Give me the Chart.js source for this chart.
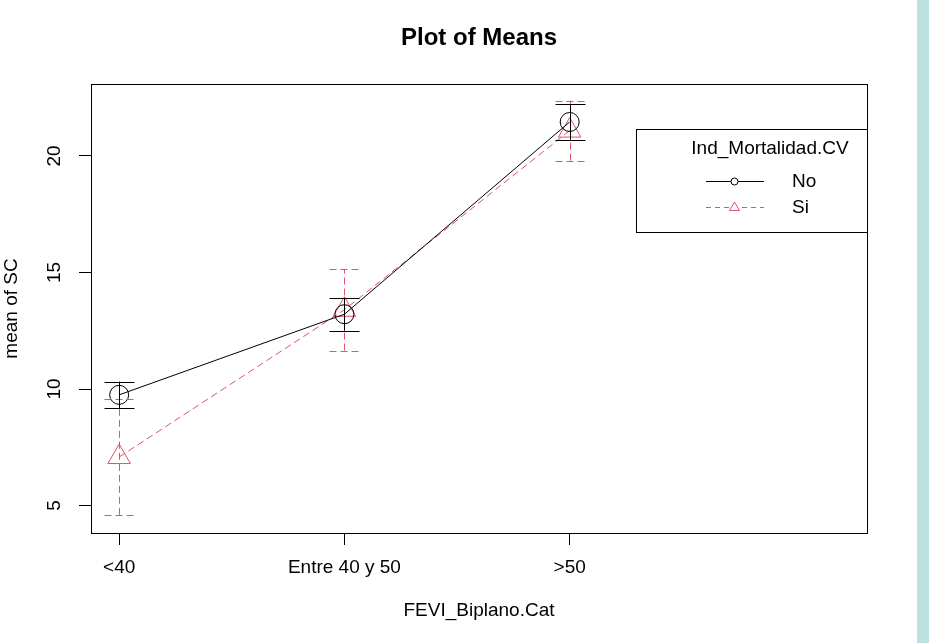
<!DOCTYPE html>
<html>
<head>
<meta charset="utf-8">
<script src="https://cdn.jsdelivr.net/npm/chart.js@4"></script>
<style>
html,body{margin:0;padding:0;background:#fff;}
#wrap{position:relative;width:929px;height:643px;}
</style>
</head>
<body>
<div id="wrap"><canvas id="c" width="929" height="643"></canvas></div>
<script>
// ---- data ----
const categories = ['<40', 'Entre 40 y 50', '>50'];
const seriesNames = ['No', 'Si'];
const noMeans = [9.75, 13.21, 21.46];
const noSE = [0.57, 0.71, 0.77];
const siMeans = [7.08, 13.40, 21.09];
const siSE = [2.48, 1.75, 1.29];
const yTicks = [5, 10, 15, 20];
const legendTitle = 'Ind_Mortalidad.CV';
const chartTitle = 'Plot of Means';
const xTitle = 'FEVI_Biplano.Cat';
const yTitle = 'mean of SC';

const BLACK = '#000000';
const PINK = '#DF536B';
const FONT = "'Liberation Sans', Arial, sans-serif";
const DASH = [7, 4];

const toPts = arr => arr.map((v, i) => ({x: i, y: v}));

const centerTitle = {
  id: 'centerTitle',
  afterLayout(chart) {
    const tb = chart.titleBlock;
    if (tb) {
      tb.left = chart.chartArea.left;
      tb.right = chart.chartArea.right;
      tb.width = tb.right - tb.left;
    }
  }
};

const errorBars = {
  id: 'errorBars',
  afterDatasetsDraw(chart) {
    const ctx = chart.ctx, xs = chart.scales.x, ys = chart.scales.y;
    const sets = [
      {m: siMeans, se: siSE, color: PINK, dash: DASH},
      {m: noMeans, se: noSE, color: BLACK, dash: []}
    ];
    ctx.save();
    ctx.lineWidth = 1;
    sets.forEach(s => {
      ctx.strokeStyle = s.color;
      ctx.setLineDash(s.dash);
      s.m.forEach((v, i) => {
        const px = Math.round(xs.getPixelForValue(i)) + 0.5;
        const top = ys.getPixelForValue(v + s.se[i]);
        const bot = ys.getPixelForValue(v - s.se[i]);
        ctx.beginPath();
        ctx.moveTo(px, bot); ctx.lineTo(px, top);
        ctx.moveTo(px - 15, Math.round(top) + 0.5); ctx.lineTo(px + 15, Math.round(top) + 0.5);
        ctx.moveTo(px - 15, Math.round(bot) + 0.5); ctx.lineTo(px + 15, Math.round(bot) + 0.5);
        ctx.stroke();
      });
    });
    ctx.restore();
  }
};

const frame = {
  id: 'frame',
  beforeDraw(chart) {
    const ctx = chart.ctx;
    ctx.save();
    ctx.fillStyle = '#ffffff';
    ctx.fillRect(0, 0, chart.width, chart.height);
    ctx.fillStyle = '#BDE0E2';
    ctx.fillRect(917, 0, chart.width - 917, chart.height);
    ctx.restore();
  },
  afterDraw(chart) {
    const ctx = chart.ctx, a = chart.chartArea;
    ctx.save();
    ctx.strokeStyle = BLACK;
    ctx.lineWidth = 1;
    ctx.setLineDash([]);
    ctx.strokeRect(Math.round(a.left) + 0.5, Math.round(a.top) + 0.5,
                   Math.round(a.right - a.left), Math.round(a.bottom - a.top));
    // legend box
    const lx = 636.5, ly = 129.5, lw = Math.round(a.right) - 636, lh = 103;
    ctx.fillStyle = '#fff';
    ctx.fillRect(lx, ly, lw, lh);
    ctx.strokeRect(lx, ly, lw, lh);
    ctx.fillStyle = '#000';
    ctx.font = '19px ' + FONT;
    ctx.textBaseline = 'middle';
    ctx.textAlign = 'center';
    ctx.fillText(legendTitle, 770, 149);
    ctx.textAlign = 'left';
    const rows = [
      {name: seriesNames[0], y: 181, color: BLACK, dash: [], shape: 'circle'},
      {name: seriesNames[1], y: 207, color: PINK, dash: [5, 4], shape: 'triangle'}
    ];
    rows.forEach(r => {
      ctx.strokeStyle = r.color;
      ctx.setLineDash(r.dash);
      ctx.beginPath();
      ctx.moveTo(706, r.y + 0.5); ctx.lineTo(764, r.y + 0.5);
      ctx.stroke();
      ctx.setLineDash([]);
      ctx.beginPath();
      ctx.fillStyle = '#fff';
      if (r.shape === 'circle') {
        ctx.arc(734.5, r.y + 0.5, 3.5, 0, Math.PI * 2);
      } else {
        ctx.moveTo(734.5, r.y - 5); ctx.lineTo(739.5, r.y + 3.5); ctx.lineTo(729.5, r.y + 3.5); ctx.closePath();
      }
      ctx.fill();
      ctx.stroke();
      ctx.fillStyle = '#000';
      ctx.fillText(r.name, 792, r.y + 1);
    });
    ctx.restore();
  }
};

new Chart(document.getElementById('c'), {
  type: 'line',
  data: {
    datasets: [
      {
        label: seriesNames[0],
        data: toPts(noMeans),
        borderColor: BLACK,
        borderWidth: 1,
        pointStyle: 'circle',
        pointRadius: 9.5,
        pointBorderWidth: 1,
        pointBorderColor: BLACK,
        pointBackgroundColor: 'rgba(0,0,0,0)',
        tension: 0
      },
      {
        label: seriesNames[1],
        data: toPts(siMeans),
        borderColor: PINK,
        borderWidth: 1,
        borderDash: DASH,
        pointStyle: 'triangle',
        pointRadius: 13,
        pointBorderWidth: 1,
        pointBorderColor: PINK,
        pointBackgroundColor: 'rgba(0,0,0,0)',
        tension: 0
      }
    ]
  },
  options: {
    responsive: false,
    animation: false,
    devicePixelRatio: 1,
    layout: {padding: {left: 0, right: 62, top: 0, bottom: 0}},
    plugins: {
      legend: {display: false},
      tooltip: {enabled: false},
      title: {
        display: true,
        text: chartTitle,
        color: '#000',
        font: {family: FONT, size: 24, weight: 'bold', lineHeight: 1.2},
        padding: {top: 24, bottom: 31.2}
      }
    },
    scales: {
      x: {
        type: 'linear',
        min: -0.125,
        max: 3.32,
        afterBuildTicks: s => { s.ticks = categories.map((c, i) => ({value: i})); },
        afterFit: s => { s.height = 110; },
        grid: {display: true, drawOnChartArea: false, drawTicks: true, tickLength: 12, color: BLACK, lineWidth: 1},
        border: {display: true, color: BLACK, width: 1},
        ticks: {
          color: '#000',
          font: {family: FONT, size: 19},
          padding: 11,
          maxRotation: 0, minRotation: 0,
          autoSkip: false,
          callback: v => categories[v]
        },
        title: {
          display: true, text: xTitle, color: '#000',
          font: {family: FONT, size: 19, lineHeight: 1.2},
          padding: {top: 0, bottom: 20.6}
        }
      },
      y: {
        type: 'linear',
        min: 3.82,
        max: 23.09,
        afterBuildTicks: s => { s.ticks = yTicks.map(v => ({value: v})); },
        afterFit: s => { s.width = 91; },
        grid: {display: true, drawOnChartArea: false, drawTicks: true, tickLength: 12, color: BLACK, lineWidth: 1},
        border: {display: true, color: BLACK, width: 1},
        ticks: {
          color: '#000',
          font: {family: FONT, size: 19},
          padding: 13.4,
          minRotation: 90, maxRotation: 90,
          crossAlign: 'center',
          autoSkip: false,
          callback: v => String(v)
        },
        title: {
          display: true, text: yTitle, color: '#000',
          font: {family: FONT, size: 19, lineHeight: 1.2},
          padding: {top: 0, bottom: 0}
        }
      }
    }
  },
  plugins: [centerTitle, frame, errorBars]
});
</script>
</body>
</html>
